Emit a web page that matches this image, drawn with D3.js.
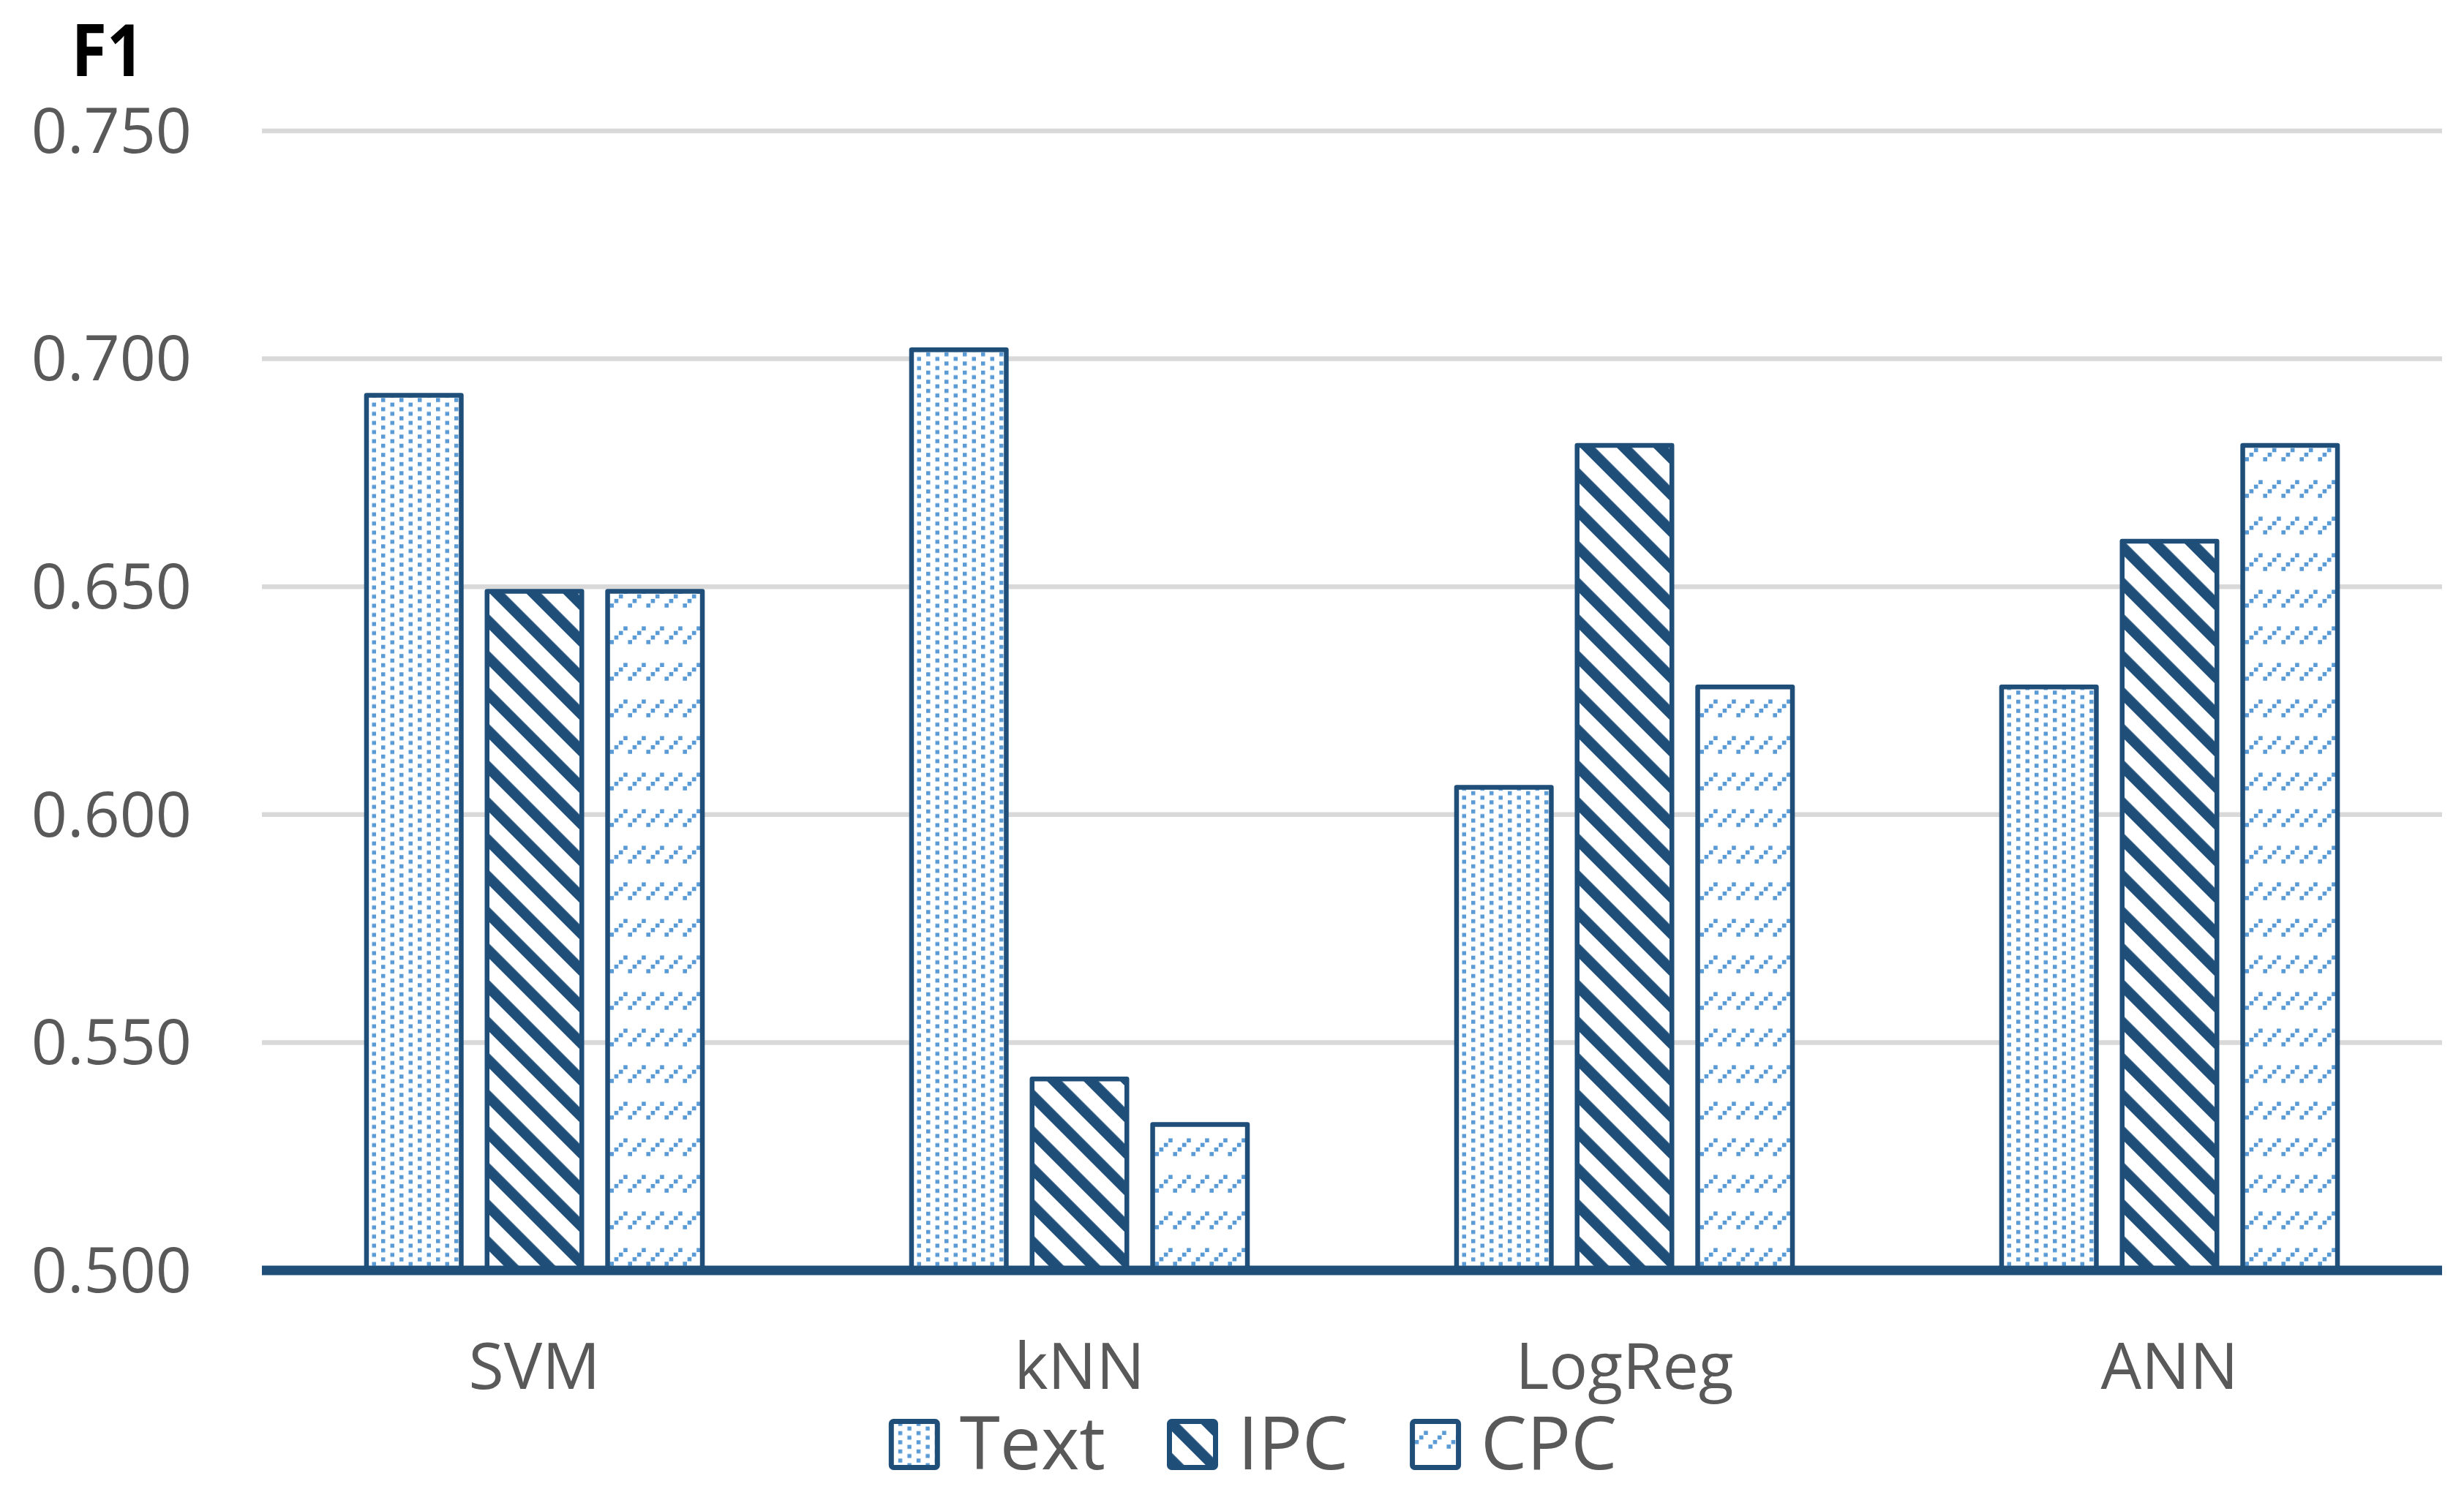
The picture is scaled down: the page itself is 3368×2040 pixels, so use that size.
<!DOCTYPE html>
<html>
<head>
<meta charset="utf-8">
<script src="https://cdn.jsdelivr.net/npm/d3@7/dist/d3.min.js"></script>
<style>
  html, body { margin: 0; padding: 0; background: #ffffff; }
  svg { display: block; }
</style>
</head>
<body>
<script>
// ---- data ----
const categories = ["SVM", "kNN", "LogReg", "ANN"];
const seriesNames = ["Text", "IPC", "CPC"];
const textValues = [0.692, 0.702, 0.606, 0.628];
const ipcValues  = [0.649, 0.542, 0.681, 0.660];
const cpcValues  = [0.649, 0.532, 0.628, 0.681];
const yTicks = [0.500, 0.550, 0.600, 0.650, 0.700, 0.750];
const yTitle = "F1";

const seriesValues = { Text: textValues, IPC: ipcValues, CPC: cpcValues };

// ---- layout ----
const W = 3368, H = 2040;
const plotLeft = 358, plotRight = 3338, plotTop = 179, plotBottom = 1737;
const dark = "#1F4E79", light = "#5B9BD5";
const fontFamily = "'Open Sans', 'Noto Sans', sans-serif";

const svg = d3.select("body").append("svg").attr("width", W).attr("height", H);
const defs = svg.append("defs");

// Text pattern: staggered dots
const pText = defs.append("pattern").attr("id", "pat-Text")
  .attr("patternUnits", "userSpaceOnUse").attr("width", 25).attr("height", 12.5);
pText.append("rect").attr("width", 25).attr("height", 12.5).attr("fill", "#fff");
pText.append("rect").attr("x", 0.5).attr("y", 0.5).attr("width", 5.5).attr("height", 5.5).attr("fill", light);
pText.append("rect").attr("x", 13).attr("y", 6.75).attr("width", 5.5).attr("height", 5.5).attr("fill", light);

// IPC pattern: wide downward diagonal
const pIPC = defs.append("pattern").attr("id", "pat-IPC")
  .attr("patternUnits", "userSpaceOnUse").attr("width", 35.36).attr("height", 20)
  .attr("patternTransform", "rotate(-45)");
pIPC.append("rect").attr("width", 35.36).attr("height", 20).attr("fill", "#fff");
pIPC.append("rect").attr("x", 0).attr("width", 14.5).attr("height", 20).attr("fill", dark);

// CPC pattern: dashed upward diagonal
const pCPC = defs.append("pattern").attr("id", "pat-CPC")
  .attr("patternUnits", "userSpaceOnUse").attr("width", 25).attr("height", 50);
pCPC.append("rect").attr("width", 25).attr("height", 50).attr("fill", "#fff");
[[0, 3], [1, 2], [2, 1], [3, 0]].forEach(([i, j]) => {
  pCPC.append("rect").attr("x", i * 6.25 + 0.4).attr("y", j * 6.25 + 6 + 0.4)
    .attr("width", 5.6).attr("height", 5.6).attr("fill", light);
});

// ---- scales ----
const x0 = d3.scaleBand().domain(categories).range([plotLeft, plotRight]).paddingInner(0).paddingOuter(0);
const x1 = d3.scaleBand().domain(seriesNames).range([0, x0.bandwidth()])
  .paddingInner(0.2142).paddingOuter(0.8674);
const y = d3.scaleLinear().domain([0.5, 0.75]).range([plotBottom, plotTop]);

// gridlines
svg.append("g").selectAll("line").data(yTicks.filter(t => t > 0.5)).join("line")
  .attr("x1", plotLeft).attr("x2", plotRight)
  .attr("y1", d => y(d)).attr("y2", d => y(d))
  .attr("stroke", "#D9D9D9").attr("stroke-width", 6.5);

// y axis labels
const yAxis = d3.axisLeft(y).tickValues(yTicks).tickFormat(d3.format(".3f")).tickSize(0).tickPadding(0);
const gy = svg.append("g").attr("transform", `translate(262,0)`).call(yAxis);
gy.select(".domain").remove();
gy.selectAll("text").attr("font-family", fontFamily).attr("font-size", 86)
  .attr("fill", "#595959").attr("dy", "0.34em");

// bars
const groups = svg.append("g").selectAll("g").data(categories).join("g")
  .attr("transform", d => `translate(${x0(d)},0)`);
groups.selectAll("rect").data((c, ci) => seriesNames.map(s => ({ s, v: seriesValues[s][ci] })))
  .join("rect")
  .attr("x", d => x1(d.s))
  .attr("width", x1.bandwidth())
  .attr("y", d => y(d.v))
  .attr("height", d => plotBottom - y(d.v))
  .attr("fill", d => `url(#pat-${d.s})`)
  .attr("stroke", dark).attr("stroke-width", 6.5).attr("stroke-linejoin", "round");

// baseline
svg.append("line").attr("x1", plotLeft).attr("x2", plotRight)
  .attr("y1", plotBottom).attr("y2", plotBottom)
  .attr("stroke", dark).attr("stroke-width", 13);

// x axis labels
const xAxis = d3.axisBottom(x0).tickSize(0).tickPadding(0);
const gx = svg.append("g").attr("transform", `translate(0,1899)`).call(xAxis);
gx.select(".domain").remove();
gx.selectAll("text").attr("font-family", fontFamily).attr("font-size", 88)
  .attr("fill", "#595959").attr("dy", 0);

// y title
svg.append("text").attr("x", 147).attr("y", 104).attr("text-anchor", "middle")
  .attr("font-family", fontFamily).attr("font-weight", 700).attr("font-size", 98)
  .attr("fill", "#000").attr("textLength", 99).attr("lengthAdjust", "spacingAndGlyphs")
  .text(yTitle);

// legend
const legend = svg.append("g");
let cx = 0;
const items = [];
seriesNames.forEach((s, i) => {
  const g = legend.append("g");
  g.append("rect").attr("x", 3.5).attr("y", 1943.5).attr("width", 63).attr("height", 63)
    .attr("rx", 3).attr("fill", `url(#pat-${s})`).attr("stroke", dark).attr("stroke-width", 7);
  const t = g.append("text").attr("x", 97).attr("y", 2009)
    .attr("font-family", fontFamily).attr("font-size", 100).attr("fill", "#595959").text(s);
  items.push({ g, w: 97 + t.node().getComputedTextLength() });
});
const gapItems = 84;
const totalW = d3.sum(items, d => d.w) + gapItems * (items.length - 1);
let start = 1712.5 - totalW / 2;
items.forEach(it => { it.g.attr("transform", `translate(${start},0)`); start += it.w + gapItems; });
</script>
</body>
</html>
